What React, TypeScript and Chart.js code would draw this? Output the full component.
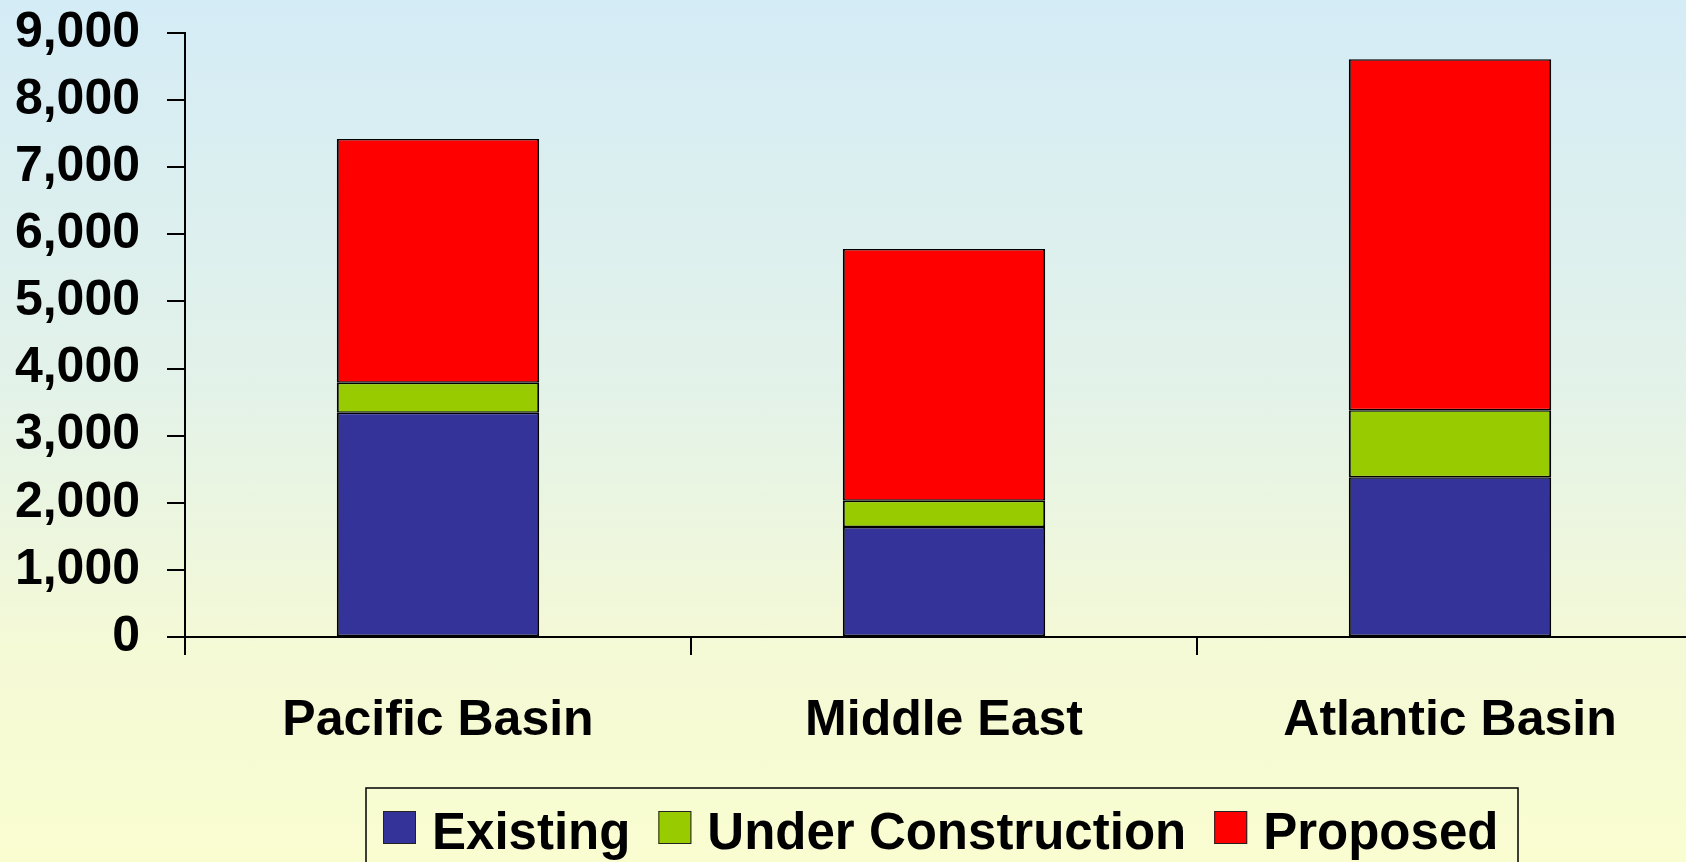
import React, { useEffect, useRef } from "react";
import { Chart, registerables } from "chart.js";

Chart.register(...registerables);

const categories = ["Pacific Basin", "Middle East", "Atlantic Basin"];
const seriesNames = ["Existing", "Under Construction", "Proposed"];
const existing = [3340, 1640, 2380];
const underConstruction = [450, 390, 1000];
const proposed = [3630, 3750, 5230];
const seriesColors = ["#333399", "#99CC00", "#FF0000"];
const yMax = 9000;
const yStep = 1000;

const FONT = "'Liberation Sans', Arial, Helvetica, sans-serif";

const boxedLegend = {
  id: "boxedLegend",
  afterDraw(chart: any) {
    const ctx = chart.ctx;
    ctx.save();
    ctx.strokeStyle = "#000";
    ctx.lineWidth = 1.5;
    ctx.strokeRect(366, 788, 1152, 120);
    ctx.font = `bold 51px ${FONT}`;
    ctx.textBaseline = "alphabetic";
    ctx.textAlign = "left";
    let x = 383;
    const sq = 33;
    chart.data.datasets.forEach((ds: any) => {
      ctx.fillStyle = ds.backgroundColor;
      ctx.fillRect(x, 811, sq, sq);
      ctx.lineWidth = 1;
      ctx.strokeStyle = "#222";
      ctx.strokeRect(x + 0.5, 811.5, sq - 1, sq - 1);
      x += sq + 16;
      ctx.fillStyle = "#000";
      ctx.fillText(ds.label, x, 849);
      x += ctx.measureText(ds.label).width + 28;
    });
    ctx.restore();
  },
};

export default function App() {
  const canvasRef = useRef<HTMLCanvasElement | null>(null);

  useEffect(() => {
    if (!canvasRef.current) return;
    const values = [existing, underConstruction, proposed];
    const chart = new Chart(canvasRef.current, {
      type: "bar",
      data: {
        labels: categories,
        datasets: seriesNames.map((name, i) => ({
          label: name,
          data: values[i],
          backgroundColor: seriesColors[i],
          borderColor: "#000",
          borderWidth: { left: 2, right: 2, top: 1.5, bottom: 1.5 },
          borderSkipped: false,
          categoryPercentage: 1,
          barPercentage: 0.4,
        })),
      },
      options: {
        responsive: false,
        animation: false,
        devicePixelRatio: 1,
        layout: { padding: { left: 0, top: 33, right: 17, bottom: 0 } },
        plugins: {
          legend: { display: false },
          tooltip: { enabled: false },
        },
        scales: {
          x: {
            stacked: true,
            offset: true,
            afterFit: (s: any) => {
              s.height = 862 - 637;
              s.paddingLeft = 0;
              s.paddingRight = 0;
            },
            grid: {
              offset: true,
              drawOnChartArea: false,
              drawTicks: true,
              tickLength: 18,
              color: "#000",
              lineWidth: 2,
            },
            border: { display: true, color: "#000", width: 2 },
            ticks: {
              color: "#000",
              padding: 36,
              maxRotation: 0,
              font: { family: FONT, size: 50, weight: "bold" },
            },
          },
          y: {
            stacked: true,
            min: 0,
            max: yMax,
            afterFit: (s: any) => {
              s.width = 185;
              s.paddingTop = 0;
              s.paddingBottom = 0;
            },
            grid: {
              drawOnChartArea: false,
              drawTicks: true,
              tickLength: 18,
              color: "#000",
              lineWidth: 2,
            },
            border: { display: true, color: "#000", width: 2 },
            ticks: {
              stepSize: yStep,
              color: "#000",
              padding: 27,
              font: { family: FONT, size: 50, weight: "bold" },
              callback: (v: any) => Number(v).toLocaleString("en-US"),
            },
          },
        },
      },
      plugins: [boxedLegend],
    });
    return () => chart.destroy();
  }, []);

  return (
    <div
      style={{
        position: "fixed",
        left: 0,
        top: 0,
        width: 1686,
        height: 862,
        overflow: "hidden",
        background:
          "linear-gradient(to bottom, #D4ECF6 0%, #E3F2E9 45%, #F4F9D6 75%, #FAFDD0 100%)",
      }}
    >
      <canvas
        ref={canvasRef}
        width={1720}
        height={862}
        style={{ display: "block", width: 1720, height: 862 }}
      />
    </div>
  );
}
